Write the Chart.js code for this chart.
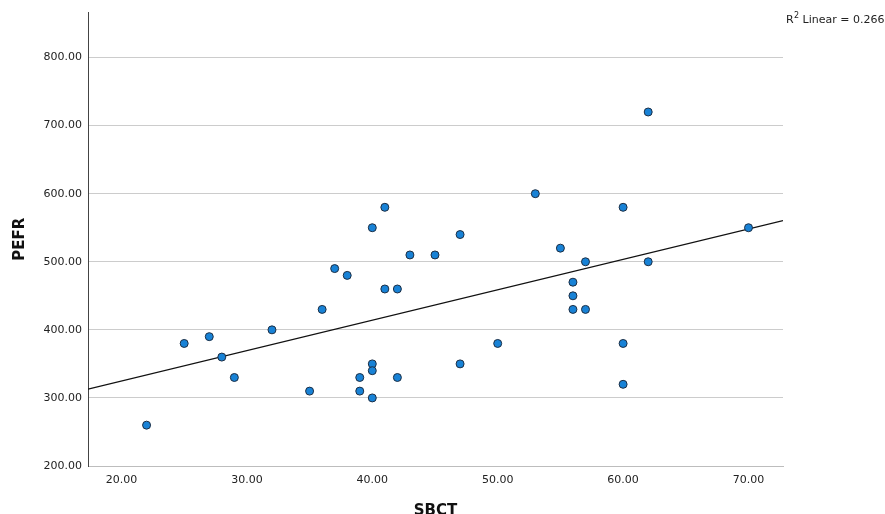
<!DOCTYPE html>
<html>
<head>
<meta charset="utf-8">
<script src="https://cdn.jsdelivr.net/npm/chart.js@4/dist/chart.umd.min.js"></script>
<style>
    html, body { margin: 0; padding: 0; background: #fff; }
    #wrap { width: 885px; height: 514px; }
</style>
</head>
<body>
<div id="wrap"><canvas id="scatter" width="885" height="514"></canvas></div>
<script>
// SBCT (x) and PEFR (y)
const sbct = [22, 25, 27, 28, 29, 32, 35, 36, 37, 38, 39, 39, 40, 40, 40, 40,
              41, 41, 42, 42, 43, 45, 47, 47, 50, 53, 55, 56, 56, 56, 57, 57,
              60, 60, 60, 62, 62, 70];
const pefr = [260, 380, 390, 360, 330, 400, 310, 430, 490, 480, 330, 310, 550, 350, 340, 300,
              580, 460, 460, 330, 510, 510, 540, 350, 380, 600, 520, 470, 450, 430, 500, 430,
              580, 380, 320, 720, 500, 550];
const xTicks = [20, 30, 40, 50, 60, 70];
const yTicks = [200, 300, 400, 500, 600, 700, 800];
const xRange = [17.33, 72.75];
const yRange = [200, 866];
const rSquared = "0.266";

document.addEventListener("DOMContentLoaded", () => {
    // least squares fit for the reference line
    const n = sbct.length;
    const mx = sbct.reduce((a, b) => a + b, 0) / n;
    const my = pefr.reduce((a, b) => a + b, 0) / n;
    let sxy = 0, sxx = 0;
    sbct.forEach((x, i) => { sxy += (x - mx) * (pefr[i] - my); sxx += (x - mx) * (x - mx); });
    const slope = sxy / sxx;
    const intercept = my - slope * mx;
    const fitLine = xRange.map(x => ({ x: x, y: intercept + slope * x }));

    // "R2 Linear = ..." note in the top right corner, with a real superscript
    const rsqPlugin = {
        id: "rsq",
        afterDraw(chart) {
            const ctx = chart.ctx;
            ctx.save();
            ctx.fillStyle = "#222";
            ctx.textBaseline = "alphabetic";
            ctx.font = "11px 'DejaVu Sans'";
            const rest = " Linear = " + rSquared;
            const restW = ctx.measureText(rest).width;
            const rW = ctx.measureText("R").width;
            ctx.font = "8px 'DejaVu Sans'";
            const supW = ctx.measureText("2").width;
            let x = 884 - restW - supW - rW;
            ctx.font = "11px 'DejaVu Sans'";
            ctx.fillText("R", x, 23);
            x += rW + 0.5;
            ctx.font = "8px 'DejaVu Sans'";
            ctx.fillText("2", x, 18);
            x += supW;
            ctx.font = "11px 'DejaVu Sans'";
            ctx.fillText(rest, x, 23);
            ctx.restore();
        }
    };

    const tickFont = { family: "'DejaVu Sans'", size: 11 };
    const titleFont = { family: "'DejaVu Sans'", size: 15, weight: "bold" };

    new Chart(document.getElementById("scatter"), {
        type: "scatter",
        data: {
            datasets: [{
                label: "PEFR",
                data: sbct.map((x, i) => ({ x: x, y: pefr[i] })),
                pointRadius: 4,
                pointHoverRadius: 4,
                backgroundColor: "#1882d6",
                borderColor: "#1c2e44",
                borderWidth: 1,
                order: 1
            }, {
                type: "line",
                label: "Linear",
                data: fitLine,
                borderColor: "#111",
                borderWidth: 1.2,
                pointRadius: 0,
                fill: false,
                order: 2
            }]
        },
        options: {
            responsive: false,
            animation: false,
            layout: { padding: { top: 12, right: 102, left: 0, bottom: 0 } },
            plugins: { legend: { display: false }, tooltip: { enabled: false } },
            scales: {
                x: {
                    type: "linear",
                    min: xRange[0],
                    max: xRange[1],
                    afterFit: s => { s.height = 48; },
                    afterBuildTicks: s => { s.ticks = xTicks.map(v => ({ value: v })); },
                    grid: { display: false, drawTicks: false },
                    border: { display: true, color: "#bdbdbd", width: 1 },
                    ticks: {
                        padding: 8,
                        color: "#222",
                        font: tickFont,
                        callback: v => v.toFixed(2)
                    },
                    title: {
                        display: true,
                        text: "SBCT",
                        color: "#111",
                        font: titleFont,
                        padding: { top: 0, bottom: -6 }
                    }
                },
                y: {
                    type: "linear",
                    min: yRange[0],
                    max: yRange[1],
                    afterFit: s => { s.width = 88; },
                    afterBuildTicks: s => { s.ticks = yTicks.map(v => ({ value: v })); },
                    grid: { color: "#cccccc", lineWidth: 1, drawTicks: false },
                    border: { display: true, color: "#444", width: 1 },
                    ticks: {
                        padding: 6,
                        color: "#222",
                        font: tickFont,
                        callback: v => v.toFixed(2)
                    },
                    title: {
                        display: true,
                        text: "PEFR",
                        color: "#111",
                        font: titleFont,
                        padding: { top: 11, bottom: 0 }
                    }
                }
            }
        },
        plugins: [rsqPlugin]
    });
});
</script>
</body>
</html>
